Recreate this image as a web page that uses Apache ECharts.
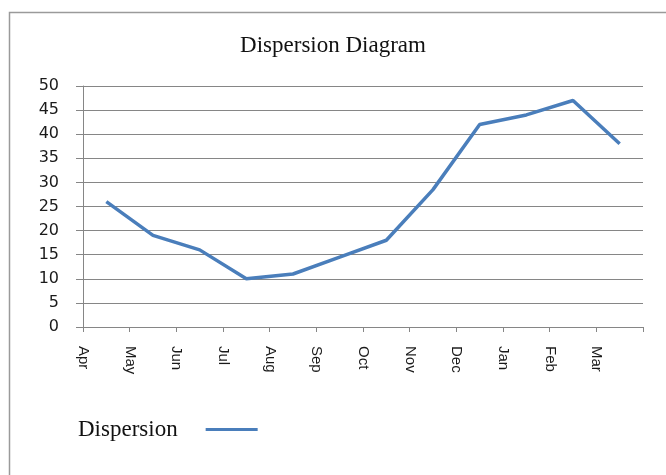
<!DOCTYPE html>
<html>
<head>
<meta charset="utf-8">
<script src="https://cdn.jsdelivr.net/npm/echarts@6/dist/echarts.min.js"></script>
<style>html,body{margin:0;padding:0;background:#fff;}#c{width:666px;height:475px;}</style>
</head>
<body>
<div id="c"></div>
<script>
var months = ['Apr','May','Jun','Jul','Aug','Sep','Oct','Nov','Dec','Jan','Feb','Mar'];
var dispersion = [26, 19, 16, 10, 11, 14.5, 18, 28.5, 42, 44, 47, 38];
var yTicks = [0, 5, 10, 15, 20, 25, 30, 35, 40, 45, 50];

var seriesData = dispersion.map(function (v, i) { return [i + 0.5, v]; });

var chart = echarts.init(document.getElementById('c'));
chart.setOption({
  animation: false,
  backgroundColor: '#fff',
  graphic: [{
    type: 'rect', silent: true, z: -1,
    shape: { x: 9.5, y: 12.5, width: 700, height: 500 },
    style: { fill: 'none', stroke: '#9a9a9a', lineWidth: 1.5 }
  }],
  title: {
    text: 'Dispersion Diagram',
    left: 'center', top: 29,
    textStyle: { fontFamily: 'Liberation Serif', fontWeight: 'normal', fontSize: 23, color: '#111' }
  },
  legend: {
    left: 73, top: 413,
    align: 'right',
    itemWidth: 52, itemHeight: 14,
    icon: 'path://M0,0 L52,0 L52,3 L0,3 Z',
    textStyle: { fontFamily: 'Liberation Serif', fontSize: 23, color: '#111', padding: [0, 23, 0, 0] },
    data: ['Dispersion']
  },
  grid: { left: 83, right: 23, top: 86, bottom: 148 },
  xAxis: {
    type: 'value', min: 0, max: months.length, interval: 1,
    splitLine: { show: false },
    axisLine: { show: true, lineStyle: { color: '#868686', width: 1 } },
    axisTick: { show: true, length: 5, lineStyle: { color: '#868686' } },
    axisLabel: {
      rotate: -90, margin: 19,
      fontFamily: 'Liberation Sans', fontSize: 15, color: '#1a1a1a',
      showMaxLabel: true,
      formatter: function (v) { return months[v] || ''; }
    }
  },
  yAxis: {
    type: 'value', min: yTicks[0], max: yTicks[yTicks.length - 1], interval: 5,
    axisLine: { show: true, lineStyle: { color: '#868686', width: 1 } },
    axisTick: { show: true, length: 7, lineStyle: { color: '#868686' } },
    splitLine: { show: true, lineStyle: { color: '#868686', width: 1 } },
    axisLabel: { margin: 24, fontFamily: 'DejaVu Sans', fontSize: 16, color: '#1a1a1a' }
  },
  series: [{
    name: 'Dispersion', type: 'line',
    data: seriesData,
    symbol: 'none',
    lineStyle: { color: '#4A7EBB', width: 3.5 },
    itemStyle: { color: '#4A7EBB' }
  }]
});
</script>
</body>
</html>
